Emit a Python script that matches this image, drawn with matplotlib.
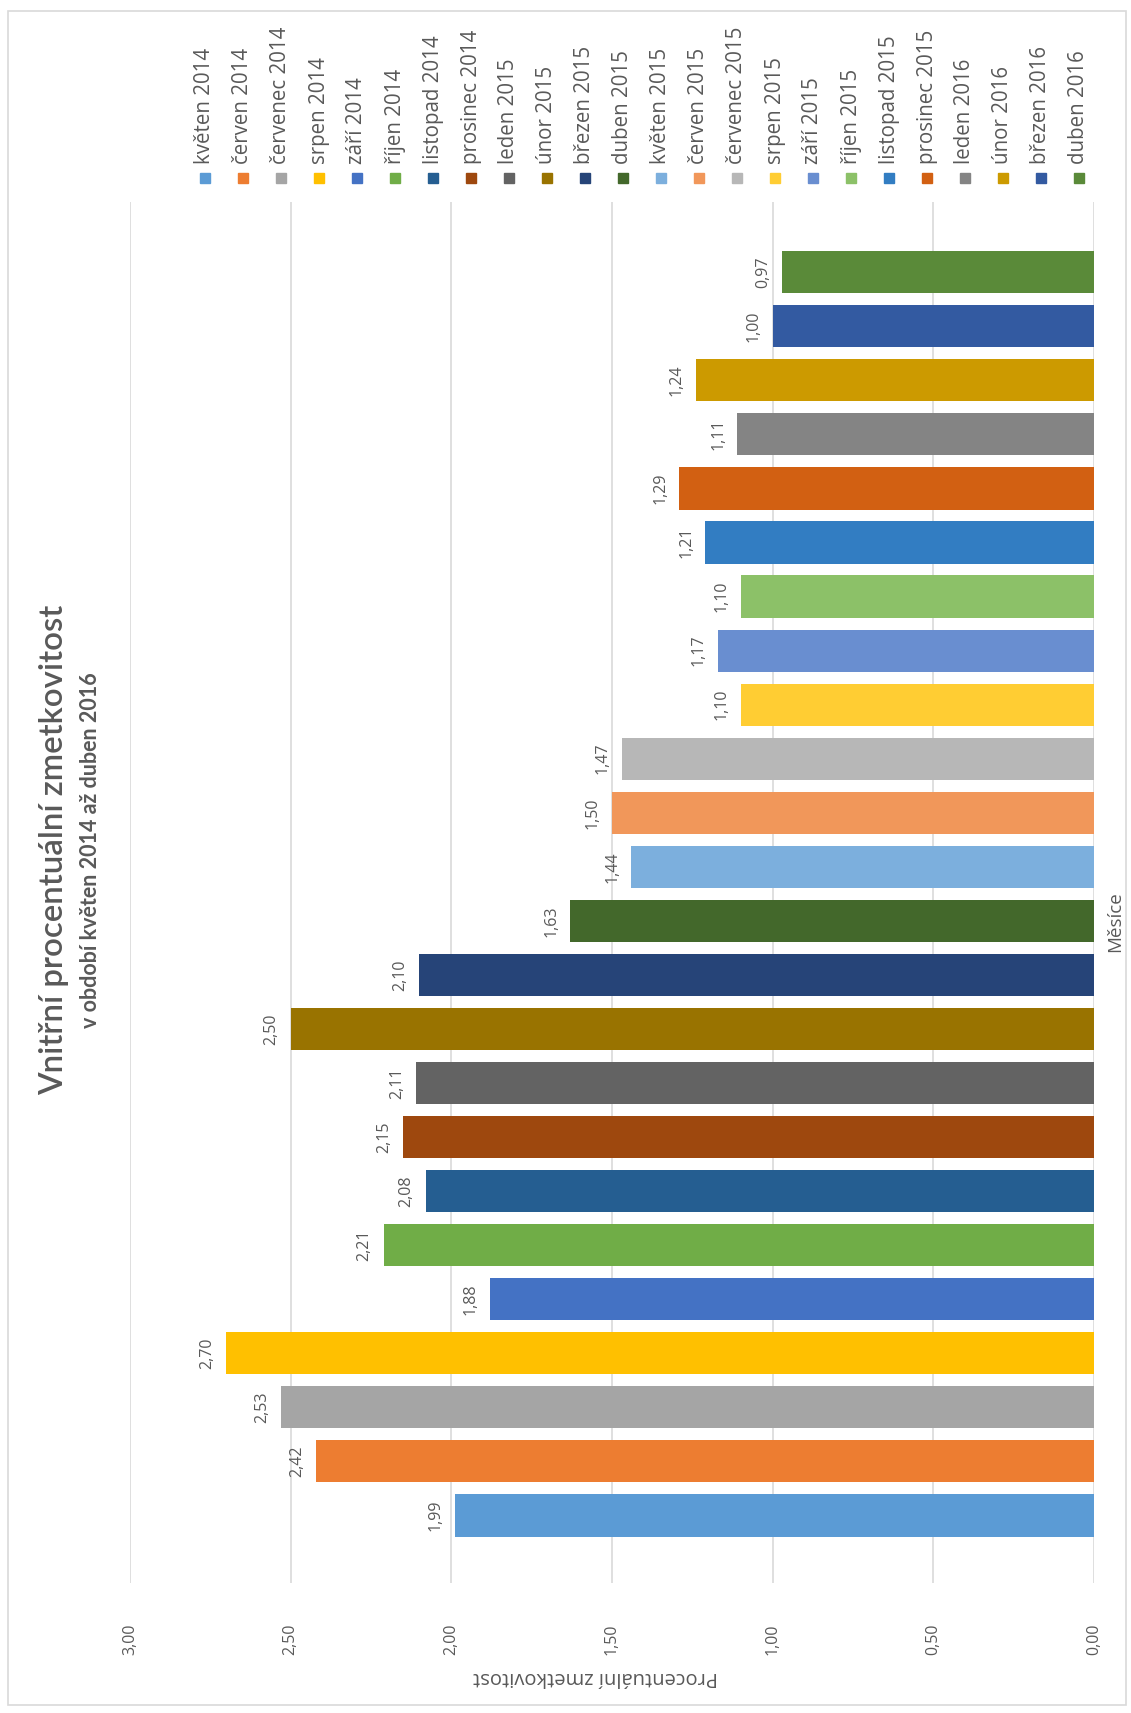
import numpy as np
import matplotlib
matplotlib.use("Agg")
import matplotlib.pyplot as plt
from matplotlib.patches import Rectangle

# ---- data ----
months = ["květen 2014", "červen 2014", "červenec 2014", "srpen 2014", "září 2014",
          "říjen 2014", "listopad 2014", "prosinec 2014", "leden 2015", "únor 2015",
          "březen 2015", "duben 2015", "květen 2015", "červen 2015", "červenec 2015",
          "srpen 2015", "září 2015", "říjen 2015", "listopad 2015", "prosinec 2015",
          "leden 2016", "únor 2016", "březen 2016", "duben 2016"]
values = [1.99, 2.42, 2.53, 2.70, 1.88, 2.21, 2.08, 2.15, 2.11, 2.50,
          2.10, 1.63, 1.44, 1.50, 1.47, 1.10, 1.17, 1.10, 1.21, 1.29,
          1.11, 1.24, 1.00, 0.97]
colors = ["#5B9BD5", "#ED7D31", "#A5A5A5", "#FFC000", "#4472C4", "#70AD47",
          "#255E91", "#9E480E", "#636363", "#997300", "#264478", "#43682B",
          "#7CAFDD", "#F1975A", "#B7B7B7", "#FFCD33", "#698ED0", "#8CC168",
          "#327DC2", "#D26012", "#848484", "#CC9A00", "#335AA1", "#5A8A39"]
xticks = [0.0, 0.5, 1.0, 1.5, 2.0, 2.5, 3.0]
title = "Vnitřní procentuální zmetkovitost"
subtitle = "v období květen 2014 až duben 2016"
value_axis_title = "Procentuální zmetkovitost"
category_axis_title = "Měsíce"

TXT = "#595959"
GRID = "#D9D9D9"
W, H = 1131, 1713
plt.rcParams['font.family'] = ['Open Sans', 'DejaVu Sans']

fig = plt.figure(figsize=(W / 100, H / 100), dpi=100)
fig.patch.set_facecolor("white")

def fx(px):
    return px / W

def fy(py):
    return 1 - py / H

# chart border
fig.patches.append(Rectangle((fx(8), fy(1705)), fx(1126) - fx(8), fy(11) - fy(1705),
                             transform=fig.transFigure, fill=False, edgecolor=GRID, lw=1.2))

ax = fig.add_axes([fx(130), fy(1583), fx(1094) - fx(130), fy(202) - fy(1583)])
pos = np.arange(len(values))
ax.barh(pos, values, height=0.78, color=colors, zorder=3)
ax.set_xlim(3, 0)
ax.set_ylim(-1.25, 24.3)
ax.set_xticks(xticks)
ax.set_xticklabels([f"{t:.2f}".replace(".", ",") for t in xticks], rotation=90,
                   color=TXT, fontsize=11.5)
ax.tick_params(axis="x", length=0, pad=29)
ax.set_yticks([])
for s in ax.spines.values():
    s.set_visible(False)
ax.grid(axis="x", color=GRID, lw=1.2, zorder=0)
ax.set_axisbelow(True)

for i, v in enumerate(values):
    ax.annotate(f"{v:.2f}".replace(".", ","), xy=(v, i), xytext=(-8, 0),
                textcoords="offset points", ha="right", va="center", rotation=90,
                color=TXT, fontsize=11.5)

# titles
fig.text(fx(54), fy(850), title, rotation=90, ha="center", va="center",
         fontsize=23.8, color=TXT, family=["Lato", "DejaVu Sans"], fontweight="semibold")
fig.text(fx(91), fy(850), subtitle, rotation=90, ha="center", va="center",
         fontsize=15.5, color=TXT, family=["Lato", "DejaVu Sans"], fontweight="bold")
fig.text(fx(596), fy(1677), value_axis_title, rotation=180, ha="center", va="center",
         fontsize=14.5, color=TXT)
fig.text(fx(1115), fy(922), category_axis_title, rotation=90, ha="center", va="center",
         fontsize=13.5, color=TXT)

# legend (manual, rotated)
for i, (m, c) in enumerate(zip(months, colors)):
    cx = 205 + 38.0 * i
    fig.patches.append(Rectangle((fx(cx - 5), fy(183)), fx(10), 10 / H,
                                 transform=fig.transFigure, color=c))
    fig.text(fx(cx), fy(164), m, rotation=90, ha="center", va="bottom",
             fontsize=14.8, color=TXT)

fig.savefig("out.png", dpi=100, facecolor="white")
